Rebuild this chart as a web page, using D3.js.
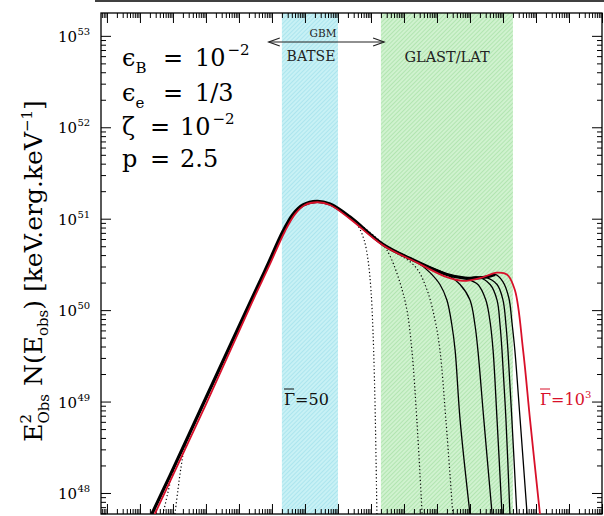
<!DOCTYPE html>
<html>
<head>
<meta charset="utf-8">
<script src="https://cdn.jsdelivr.net/npm/d3@7"></script>
<style>
  body { margin: 0; background: #fff; }
  svg { display: block; font-family: "DejaVu Serif", "Liberation Serif", serif; }
</style>
</head>
<body>
<svg id="chart" width="604" height="516"></svg>
<script>
// values are log10(E_obs / keV) and log10(E^2 N(E))
var mainLogE = [-2.64, -2.09, -1.09, -0.27, 0.33, 0.85, 1.33, 1.64, 1.94, 2.36, 2.76, 3.36, 4.36, 5.39, 6.30, 6.85, 7.45, 7.76];
var mainLogF = [47.77, 48.19, 48.97, 49.61, 50.08, 50.48, 50.86, 51.05, 51.15, 51.19, 51.16, 51.02, 50.72, 50.53, 50.39, 50.35, 50.36, 50.39];

var redLogE = [-2.55, -1.00, 0.39, 0.91, 1.39, 1.70, 2.00, 2.39, 2.76, 3.36, 4.36, 5.39, 6.30, 6.79, 7.30, 7.82, 8.12, 8.36, 8.61, 8.82, 9.12];
var redLogF = [47.77, 48.97, 50.08, 50.48, 50.86, 51.05, 51.15, 51.18, 51.15, 51.00, 50.71, 50.52, 50.36, 50.32, 50.35, 50.41, 50.39, 50.22, 49.56, 48.80, 47.77];

// high-energy cut-offs: each curve follows the main one up to 'split', then its own tail
var dottedSplit = [3.36, 4.36, 4.36];
var dottedTails = [
  [[3.61, 50.92], [3.79, 50.77], [3.91, 50.55], [4.00, 50.22], [4.06, 49.78], [4.12, 49.02], [4.18, 47.77]],
  [[4.58, 50.59], [4.88, 50.30], [5.09, 50.00], [5.24, 49.56], [5.39, 48.80], [5.55, 47.77]],
  [[5.33, 50.48], [5.70, 50.22], [5.94, 49.89], [6.09, 49.56], [6.27, 48.80], [6.48, 47.77]]
];
// self-absorbed low-energy start of the two lowest-Lorentz-factor curves, joining the main one at 'join'
var dottedJoin = [-1.09, -1.09];
var dottedHeads = [
  [[-1.94, 47.77], [-1.85, 48.03], [-1.76, 48.27], [-1.64, 48.50]],
  [[-2.30, 47.77], [-2.15, 48.01], [-2.03, 48.19], [-1.88, 48.35]]
];
var solidSplit = [5.39, 6.30, 6.85, 6.85, 7.45, 7.45];
var solidTails = [
  [[5.79, 50.41], [6.09, 50.28], [6.30, 50.11], [6.45, 49.84], [6.55, 49.56], [6.70, 48.80], [7.00, 47.77]],
  [[6.70, 50.28], [7.00, 50.11], [7.15, 49.84], [7.24, 49.56], [7.42, 48.80], [7.67, 47.77]],
  [[7.24, 50.28], [7.48, 50.11], [7.61, 49.87], [7.70, 49.56], [7.82, 48.80], [7.97, 47.77]],
  [[7.24, 50.36], [7.61, 50.28], [7.82, 50.11], [7.91, 49.84], [7.97, 49.56], [8.09, 48.80], [8.21, 47.77]],
  [[7.82, 50.28], [8.00, 50.11], [8.09, 49.84], [8.15, 49.56], [8.27, 48.80], [8.42, 47.77]],
  [[7.76, 50.39], [8.00, 50.31], [8.18, 50.13], [8.27, 49.87], [8.36, 49.56], [8.52, 48.80], [8.73, 47.77]]
];

// instrument bands, keV
var batseBand = [20, 1000];
var latBand = [2e4, 2e8];
var gbmRange = [8, 2.5e4];

var yDecades = [48, 49, 50, 51, 52, 53];
var paramLines = [
  { sym: 'ϵ', sub: 'B', val: '10', sup: '−2' },
  { sym: 'ϵ', sub: 'e', val: '1/3', sup: '' },
  { sym: 'ζ', sub: '', val: '10', sup: '−2' },
  { sym: 'p', sub: '', val: '2.5', sup: '' }
];

var size = { w: 604, h: 516, l: 101, r: 602, t: 13, b: 514 };
var svg = d3.select('#chart');

var x = d3.scaleLog().domain([Math.pow(10, -4.18), 1e11]).range([size.l, size.r]);
var y = d3.scaleLog().domain([Math.pow(10, 47.77), Math.pow(10, 53.25)]).range([size.b, size.t]);

var defs = svg.append('defs');
defs.append('clipPath').attr('id', 'plot')
  .append('rect').attr('x', size.l).attr('y', size.t)
  .attr('width', size.r - size.l).attr('height', size.b - size.t);

function hatch(id, base, line) {
  var p = defs.append('pattern').attr('id', id)
    .attr('width', 3).attr('height', 3)
    .attr('patternUnits', 'userSpaceOnUse')
    .attr('patternTransform', 'rotate(45)');
  p.append('rect').attr('width', 3).attr('height', 3).attr('fill', base);
  p.append('rect').attr('width', 1).attr('height', 3).attr('fill', line);
}
hatch('cyan', '#c8f1f5', '#ace5ee');
hatch('green', '#d0f2cf', '#b2e5b1');

// top strip: bottom edge of the panel above
svg.append('line').attr('x1', size.l - 6).attr('x2', size.w).attr('y1', 1).attr('y2', 1)
  .attr('stroke', '#000').attr('stroke-width', 1.5);

// bands
svg.append('rect')
  .attr('x', x(batseBand[0])).attr('y', size.t)
  .attr('width', x(batseBand[1]) - x(batseBand[0])).attr('height', size.b - size.t)
  .attr('fill', 'url(#cyan)');
svg.append('rect')
  .attr('x', x(latBand[0])).attr('y', size.t)
  .attr('width', x(latBand[1]) - x(latBand[0])).attr('height', size.b - size.t)
  .attr('fill', 'url(#green)');

// axes: majors and minors on all four sides, ticks inward
var xMajor = d3.range(-4, 12).map(function(d) { return Math.pow(10, d); });
var xMinor = [];
d3.range(-5, 11).forEach(function(d) {
  for (var k = 2; k < 10; k++) {
    var v = k * Math.pow(10, d);
    if (v > x.domain()[0] && v < x.domain()[1]) xMinor.push(v);
  }
});
var yMajor = yDecades.map(function(d) { return Math.pow(10, d); });
var yMinor = [];
d3.range(47, 54).forEach(function(d) {
  for (var k = 2; k < 10; k++) {
    var v = k * Math.pow(10, d);
    if (v > y.domain()[0] && v < y.domain()[1]) yMinor.push(v);
  }
});

function drawAxis(gen, vals, len, tr) {
  var g = svg.append('g').attr('transform', tr)
    .call(gen.tickValues(vals).tickSize(len).tickFormat(''));
  g.select('.domain').remove();
  g.selectAll('line').attr('stroke', '#000').attr('stroke-width', 1);
}
drawAxis(d3.axisBottom(x), xMajor, 10, 'translate(0,' + size.t + ')');
drawAxis(d3.axisBottom(x), xMinor, 5, 'translate(0,' + size.t + ')');
drawAxis(d3.axisTop(x), xMajor, 10, 'translate(0,' + size.b + ')');
drawAxis(d3.axisTop(x), xMinor, 5, 'translate(0,' + size.b + ')');
drawAxis(d3.axisRight(y), yMajor, 10, 'translate(' + size.l + ',0)');
drawAxis(d3.axisRight(y), yMinor, 5, 'translate(' + size.l + ',0)');
drawAxis(d3.axisLeft(y), yMajor, 10, 'translate(' + size.r + ',0)');
drawAxis(d3.axisLeft(y), yMinor, 5, 'translate(' + size.r + ',0)');

svg.append('rect')
  .attr('x', size.l).attr('y', size.t)
  .attr('width', size.r - size.l).attr('height', size.b - size.t)
  .attr('fill', 'none').attr('stroke', '#000').attr('stroke-width', 1.3);

// y tick labels
svg.append('g').selectAll('text').data(yDecades).enter().append('text')
  .attr('x', 77).attr('y', function(d) { return y(Math.pow(10, d)) + 6; })
  .attr('text-anchor', 'end').attr('font-size', 15).text('10');
svg.append('g').selectAll('text').data(yDecades).enter().append('text')
  .attr('x', 77.5).attr('y', function(d) { return y(Math.pow(10, d)) - 1; })
  .attr('font-size', 10).text(function(d) { return d; });

// y title
var yt = svg.append('text')
  .attr('transform', 'translate(42,' + 271 + ') rotate(-90)')
  .attr('text-anchor', 'middle').attr('font-size', 25);
yt.append('tspan').text('E');
yt.append('tspan').attr('font-size', 15).attr('dy', -11).text('2');
yt.append('tspan').attr('font-size', 15).attr('dx', -9.5).attr('dy', 18).text('Obs');
yt.append('tspan').attr('dy', -7).text(' N(E');
yt.append('tspan').attr('font-size', 15).attr('dy', 6).text('obs');
yt.append('tspan').attr('dy', -6).text(')  [keV.erg.keV');
yt.append('tspan').attr('font-size', 15).attr('dy', -10).text('−1');
yt.append('tspan').attr('dy', 10).text(']');

// curves
var line = d3.line()
  .x(function(d) { return x(Math.pow(10, d[0])); })
  .y(function(d) { return y(Math.pow(10, d[1])); })
  .curve(d3.curveCatmullRom.alpha(0.5));

var plot = svg.append('g').attr('clip-path', 'url(#plot)');
var mainPts = mainLogE.map(function(e, i) { return [e, mainLogF[i]]; });
var redPts = redLogE.map(function(e, i) { return [e, redLogF[i]]; });

function withTail(split, tail) {
  return mainPts.filter(function(p) { return p[0] <= split; }).concat(tail);
}

dottedTails.forEach(function(tail, i) {
  var pts = withTail(dottedSplit[i], tail);
  if (i < dottedHeads.length) {
    pts = dottedHeads[i].concat(pts.filter(function(p) { return p[0] >= dottedJoin[i]; }));
  }
  plot.append('path').attr('d', line(pts))
    .attr('fill', 'none').attr('stroke', '#000').attr('stroke-width', 1.2)
    .attr('stroke-dasharray', '1.2,2.4');
});
solidTails.forEach(function(tail, i) {
  plot.append('path').attr('d', line(withTail(solidSplit[i], tail)))
    .attr('fill', 'none').attr('stroke', '#000').attr('stroke-width', 1.3);
});
plot.append('path').attr('d', line(mainPts))
  .attr('fill', 'none').attr('stroke', '#000').attr('stroke-width', 3.2);
plot.append('path').attr('d', line(redPts))
  .attr('fill', 'none').attr('stroke', '#d8102a').attr('stroke-width', 1.8);

// GBM arrow
var ay = 42;
var g = svg.append('g').attr('stroke', '#222').attr('stroke-width', 1.2).attr('fill', 'none');
g.append('line').attr('x1', x(gbmRange[0])).attr('x2', x(gbmRange[1])).attr('y1', ay).attr('y2', ay);
g.append('path').attr('d', 'M' + (x(gbmRange[0]) + 11) + ',' + (ay - 4) + 'L' + x(gbmRange[0]) + ',' + ay + 'L' + (x(gbmRange[0]) + 11) + ',' + (ay + 4));
g.append('path').attr('d', 'M' + (x(gbmRange[1]) - 11) + ',' + (ay - 4) + 'L' + x(gbmRange[1]) + ',' + ay + 'L' + (x(gbmRange[1]) - 11) + ',' + (ay + 4));

svg.append('text').attr('x', 323).attr('y', 37).attr('text-anchor', 'middle')
  .attr('font-size', 10.5).attr('fill', '#222').text('GBM');
svg.append('text').attr('x', 311).attr('y', 61).attr('text-anchor', 'middle')
  .attr('font-size', 14).attr('fill', '#222').text('BATSE');
svg.append('text').attr('x', 447).attr('y', 62).attr('text-anchor', 'middle')
  .attr('font-size', 14.5).attr('fill', '#222').text('GLAST/LAT');

// parameters: symbol, '=' and value placed at fixed columns
var baselines = [66, 101, 135, 167];
var eqX = [163, 163, 150, 150];
var valX = [195, 195, 180, 180];
paramLines.forEach(function(p, i) {
  var t = svg.append('text').attr('x', 122).attr('y', baselines[i]).attr('font-size', 24);
  t.append('tspan').text(p.sym);
  if (p.sub) t.append('tspan').attr('font-size', 15).attr('dy', 7).text(p.sub);
  svg.append('text').attr('x', eqX[i]).attr('y', baselines[i]).attr('font-size', 24).text('=');
  var v = svg.append('text').attr('x', valX[i]).attr('y', baselines[i]).attr('font-size', 24);
  v.append('tspan').text(p.val);
  if (p.sup) v.append('tspan').attr('font-size', 15).attr('dx', 2).attr('dy', -11).text(p.sup);
});

// Gamma labels
svg.append('text').attr('x', 284).attr('y', 405).attr('font-size', 16).attr('fill', '#111').text('Γ=50');
svg.append('line').attr('x1', 284).attr('x2', 294).attr('y1', 389).attr('y2', 389).attr('stroke', '#111');

var g1000 = svg.append('text').attr('x', 540).attr('y', 405).attr('font-size', 16).attr('fill', '#d8102a');
g1000.append('tspan').text('Γ=10');
g1000.append('tspan').attr('font-size', 10).attr('dy', -7).text('3');
svg.append('line').attr('x1', 540).attr('x2', 550).attr('y1', 389).attr('y2', 389).attr('stroke', '#d8102a');
</script>
</body>
</html>
